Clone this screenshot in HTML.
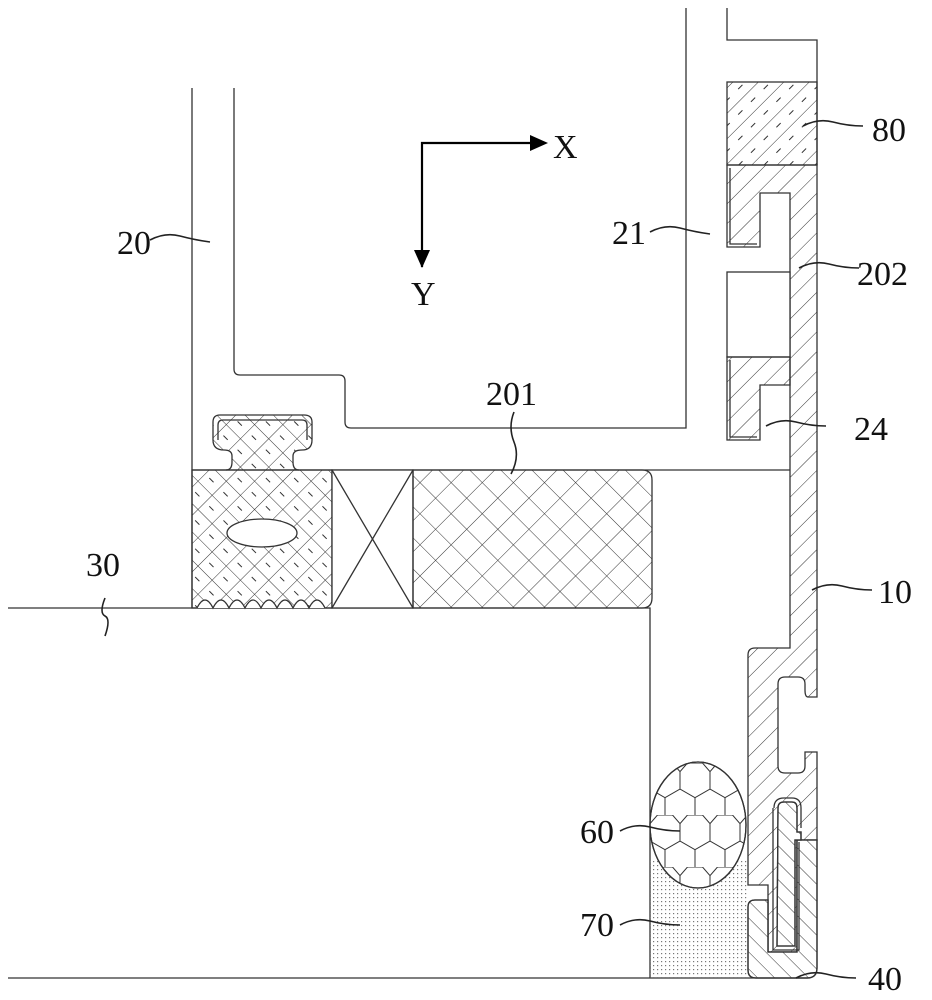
<!DOCTYPE html>
<html><head><meta charset="utf-8"><style>
html,body{margin:0;padding:0;background:#fff}
svg{display:block}
text{font-family:"Liberation Serif",serif;font-size:34px;fill:#111}
</style></head><body>
<svg width="932" height="1000" viewBox="0 0 932 1000" xmlns="http://www.w3.org/2000/svg">
<defs>
<pattern id="hat" width="14" height="14" patternUnits="userSpaceOnUse" patternTransform="rotate(45)">
<line x1="0" y1="0" x2="0" y2="14" stroke="#333" stroke-width="1"/></pattern>
<pattern id="hat2" width="12" height="12" patternUnits="userSpaceOnUse" patternTransform="rotate(-45)">
<line x1="0" y1="0" x2="0" y2="12" stroke="#333" stroke-width="1"/></pattern>
<pattern id="dash" width="18" height="18" patternUnits="userSpaceOnUse" patternTransform="rotate(45)">
<line x1="0" y1="0" x2="0" y2="18" stroke="#333" stroke-width="1"/>
<line x1="9" y1="3" x2="9" y2="9" stroke="#333" stroke-width="1"/></pattern>
<pattern id="cross" width="22" height="22" patternUnits="userSpaceOnUse" patternTransform="rotate(45)">
<line x1="0" y1="0" x2="0" y2="22" stroke="#333" stroke-width="1"/>
<line x1="0" y1="0" x2="22" y2="0" stroke="#333" stroke-width="1"/></pattern>
<pattern id="cross2" width="20" height="20" patternUnits="userSpaceOnUse" patternTransform="rotate(45)">
<line x1="0" y1="0" x2="0" y2="20" stroke="#333" stroke-width="1"/>
<line x1="0" y1="0" x2="20" y2="0" stroke="#333" stroke-width="1"/>
<line x1="6" y1="10" x2="12" y2="10" stroke="#333" stroke-width="1"/></pattern>
<pattern id="dots" width="4" height="4" patternUnits="userSpaceOnUse">
<rect x="1" y="1" width="1.2" height="1.2" fill="#777"/></pattern>
<pattern id="hex" width="30" height="52" patternUnits="userSpaceOnUse" x="650" y="763">
<path d="M0 8.7 L7.5 0 L22.5 0 L30 8.7 M7.5 0 L0 -8.7 M22.5 0 L30 -8.7" fill="none" stroke="#333" stroke-width="1"/>
<path d="M0 8.7 L0 26 M30 8.7 L30 26 M0 26 L15 34.7 L30 26 M15 34.7 L15 52" fill="none" stroke="#333" stroke-width="1"/>
</pattern>
</defs>
<g fill="none" stroke="#333" stroke-width="1.3">
<!-- frame 20 -->
<line x1="192" y1="88" x2="192" y2="608"/>
<path d="M234 88 V369 Q234 375 240 375 H339 Q345 375 345 381 V422 Q345 428 351 428 H686 V8"/>
<line x1="192" y1="470" x2="790" y2="470"/>
<!-- upper right profile -->
<path d="M727 8 V40 H817 V165"/>
<rect x="727" y="82" width="90" height="83" fill="url(#dash)"/>
<!-- 202 + 10 combined -->
<path d="M727 165 H817 V697 H808 Q805 697 805 690 V684 Q805 677 798 677 H785 Q778 677 778 684 V766 Q778 773 785 773 H798 Q805 773 805 766 V752 H817 V840 H797 V952 H768 V885 H748 V655 Q748 648 755 648 H790 V193 H760 V247 H727 Z" fill="url(#hat)"/>
<path d="M730 168 V244 H757"/>
<rect x="727" y="272" width="63" height="85" fill="#fff"/>
<path d="M727 357 H790 V385 H760 V440 H727 Z" fill="url(#hat)"/>
<path d="M730 360 V437 H757"/>
<!-- 40 -->
<path d="M748 907 Q748 900 755 900 H768 V952 H797 V840 H817 V968 Q817 978 807 978 H756 Q748 978 748 970 Z" fill="#fff"/>
<path d="M748 907 Q748 900 755 900 H768 V952 H797 V840 H817 V968 Q817 978 807 978 H756 Q748 978 748 970 Z" fill="url(#hat2)"/>
<path d="M778 808 Q778 802 784 802 H792 Q797 802 797 808 V832 H801 V840 H795 V946 H777 Z" fill="#fff"/>
<path d="M778 808 Q778 802 784 802 H792 Q797 802 797 808 V832 H801 V840 H795 V946 H777 Z" fill="url(#hat2)"/>
<path d="M774 808 Q774 798 784 798 H792 Q801 798 801 808 V828 M799 842 V950 H773 V808"/>
<!-- base 30 -->
<path d="M8 608 H650 V978"/>
<line x1="8" y1="978" x2="810" y2="978"/>
<rect x="650" y="860" width="98" height="118" fill="url(#dots)" stroke="none"/>
<ellipse cx="698" cy="825" rx="48" ry="63" fill="#fff"/>
<ellipse cx="698" cy="825" rx="48" ry="63" fill="url(#hex)"/>
<!-- seals -->
<rect x="192" y="470" width="140" height="138" fill="url(#cross2)"/>
<path d="M197 608 q8 -16 16 0 q8 -16 16 0 q8 -16 16 0 q8 -16 16 0 q8 -16 16 0 q8 -16 16 0 q8 -16 16 0 q8 -16 16 0" fill="#fff"/>
<ellipse cx="262" cy="533" rx="35" ry="14" fill="#fff"/>
<path d="M226 470 Q232 470 232 462 V456 Q232 450 224 450 Q213 450 213 440 V422 Q213 415 220 415 H304 Q312 415 312 422 V440 Q312 450 302 450 Q293 450 293 456 V462 Q293 470 299 470" fill="url(#cross2)"/>
<path d="M218 440 V425 Q218 420 223 420 H302 Q307 420 307 425 V440"/>
<rect x="332" y="470" width="81" height="138" fill="#fff"/>
<path d="M332 470 L413 608 M413 470 L332 608"/>
<path d="M413 470 H642 Q652 470 652 480 V598 Q652 608 642 608 H413 Z" fill="url(#cross)"/>
</g>
<!-- axes -->
<g stroke="#000" stroke-width="2.2" fill="#000">
<path d="M422 267 V143 H532" fill="none"/>
<path d="M548 143 L530 135 L530 151 Z" stroke="none"/>
<path d="M422 268 L414 250 L430 250 Z" stroke="none"/>
</g>
<text x="553" y="158">X</text>
<text x="411" y="305">Y</text>
<!-- leaders -->
<g fill="none" stroke="#222" stroke-width="1.6">
<path d="M150 240 q15 -8 30 -4 t30 6"/>
<path d="M650 232 q15 -8 30 -4 t30 6"/>
<path d="M803 126 q15 -8 30 -4 t30 4"/>
<path d="M799 268 q15 -8 30 -4 t30 4"/>
<path d="M766 426 q15 -8 30 -4 t30 4"/>
<path d="M514 412 q-6 15 0 30 t-3 32"/>
<path d="M812 590 q15 -8 30 -4 t30 4"/>
<path d="M105 598 q-6 15 0 18 t0 20"/>
<path d="M620 831 q15 -8 30 -4 t30 4"/>
<path d="M620 925 q15 -8 30 -4 t30 4"/>
<path d="M796 978 q15 -8 30 -4 t30 4"/>
</g>
<text x="117" y="254">20</text>
<text x="612" y="244">21</text>
<text x="872" y="141">80</text>
<text x="857" y="285">202</text>
<text x="854" y="440">24</text>
<text x="486" y="405">201</text>
<text x="878" y="603">10</text>
<text x="86" y="576">30</text>
<text x="580" y="843">60</text>
<text x="580" y="936">70</text>
<text x="868" y="990">40</text>
</svg>
</body></html>
